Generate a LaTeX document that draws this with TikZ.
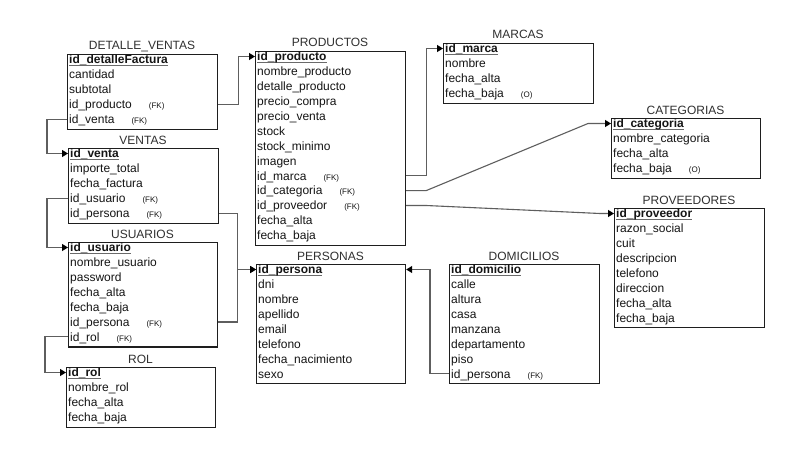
\documentclass[tikz,border=0pt]{standalone}
\usepackage{fontspec}
\setmainfont{Liberation Sans}
\usetikzlibrary{arrows.meta,calc}

\definecolor{rowink}{HTML}{151515}
\definecolor{titleink}{HTML}{303030}
\definecolor{frame}{HTML}{1E1E1E}
\definecolor{wire}{HTML}{5E5E5E}
\definecolor{ulgray}{HTML}{6A6A6A}

% primary key: bold with a grey underline at underscore depth
\newcommand\pk[1]{\setbox0\hbox{\bfseries #1}\rlap{\color{ulgray}\rule[-1.7pt]{\wd0}{0.9pt}}\box0}
% small foreign-key / optional markers
\newcommand\fkmark{\hspace{17pt}{\fontsize{8}{9}\selectfont(FK)}}
\newcommand\optmark{\hspace{17pt}{\fontsize{8}{9}\selectfont(O)}}

\tikzset{
  tbox/.style={draw=frame, line width=1.2pt, anchor=north west, inner sep=0pt, fill=white},
  ttitle/.style={anchor=base, inner sep=0pt, text=titleink, font=\fontsize{12}{14}\selectfont},
  rowtxt/.style={anchor=west, inner sep=0pt, text height=8.6pt, text depth=0pt,
                 text=rowink, font=\fontsize{12}{14}\selectfont},
  conn/.style={draw=wire, line width=1.1pt,
               -{Triangle[length=6pt,width=7pt,fill=black,color=black]}},
}

% name, title, left, top, width, number of rows, rows
\newcommand\ertable[7]{%
  \pgfmathsetmacro\boxh{#6*14.9}%
  \node[tbox, minimum width=#5pt, minimum height=\boxh pt] (#1) at (#3,#4) {};
  \node[ttitle] (#1-title) at ({#3+#5/2},{#4-4}) {#2};
  \foreach \entry [count=\rowno] in {#7} {
    \node[rowtxt] (#1-\rowno) at ({#3+2},{#4+5.5+14.9*(\rowno-1)}) {\entry};
  }
}

\begin{document}
\begin{tikzpicture}[x=1pt,y=-1pt]
\fill[white] (0,0) rectangle (789,452);
\useasboundingbox (0,0) rectangle (789,452);

\ertable{dv}{DETALLE\_VENTAS}{67}{54}{150}{5}{%
  \pk{id\_detalleFactura}, cantidad, subtotal,
  id\_producto\fkmark, id\_venta\fkmark}
\ertable{ve}{VENTAS}{68}{148}{150}{5}{%
  \pk{id\_venta}, importe\_total, fecha\_factura,
  id\_usuario\fkmark, id\_persona\fkmark}
\ertable{us}{USUARIOS}{68}{242}{149}{7}{%
  \pk{id\_usuario}, nombre\_usuario, password, fecha\_alta, fecha\_baja,
  id\_persona\fkmark, id\_rol\fkmark}
\ertable{rol}{ROL}{66}{367}{149}{4}{%
  \pk{id\_rol}, nombre\_rol, fecha\_alta, fecha\_baja}
\ertable{pr}{PRODUCTOS}{255}{51}{150}{13}{%
  \pk{id\_producto}, nombre\_producto, detalle\_producto, precio\_compra,
  precio\_venta, stock, stock\_minimo, imagen, id\_marca\fkmark,
  id\_categoria\fkmark, id\_proveedor\fkmark, fecha\_alta, fecha\_baja}
\ertable{ma}{MARCAS}{443}{43}{150}{4}{%
  \pk{id\_marca}, nombre, fecha\_alta, fecha\_baja\optmark}
\ertable{ca}{CATEGORIAS}{611}{118}{149}{4}{%
  \pk{id\_categoria}, nombre\_categoria, fecha\_alta, fecha\_baja\optmark}
\ertable{pv}{PROVEEDORES}{614}{208}{150}{8}{%
  \pk{id\_proveedor}, razon\_social, cuit, descripcion, telefono,
  direccion, fecha\_alta, fecha\_baja}
\ertable{pe}{PERSONAS}{256}{264}{149}{8}{%
  \pk{id\_persona}, dni, nombre, apellido, email, telefono,
  fecha\_nacimiento, sexo}
\ertable{do}{DOMICILIOS}{449}{264}{150}{8}{%
  \pk{id\_domicilio}, calle, altura, casa, manzana, departamento, piso,
  id\_persona\fkmark}

% foreign-key connectors
\draw[conn] (dv.east |- dv-4) -- ++(20,0) |- (pr.west |- pr-1);
\draw[conn] (dv.west |- dv-5) -- ++(-20,0) |- (ve.west |- ve-1);
\draw[conn] (ve.west |- ve-4) -- ++(-21,0) |- (us.west |- us-1);
\draw[conn] (ve.east |- ve-5) -- ++(18,0) |- (pe.west |- pe-1);
\draw[conn] (us.east |- us-6) -- ++(19,0) |- (pe.west |- pe-1);
\draw[conn] (us.west |- us-7) -- ++(-23,0) |- (rol.west |- rol-1);
\draw[conn] (pr.east |- pr-9) -- ++(20,0) |- (ma.west |- ma-1);
\draw[conn] (pr.east |- pr-10) -- ++(20,0)
  -- ($(ca.west |- ca-1)+(-23,0)$) -- (ca.west |- ca-1);
\draw[conn] (pr.east |- pr-11) -- ++(20,0)
  -- ($(pv.west |- pv-1)+(-14,0)$) -- (pv.west |- pv-1);
\draw[conn] (do.west |- do-8) -- ++(-19,0) |- (pe.east |- pe-1);
\end{tikzpicture}
\end{document}
